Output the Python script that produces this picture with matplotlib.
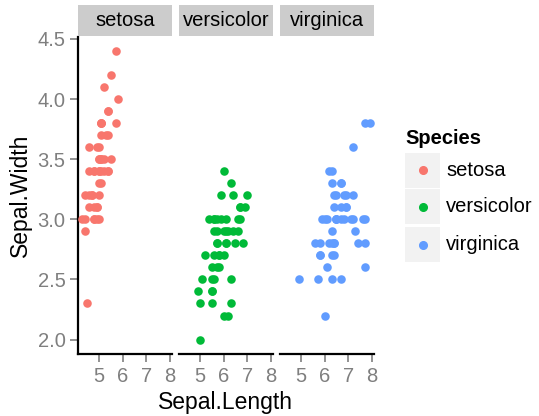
import matplotlib
matplotlib.use("Agg")
import matplotlib.pyplot as plt
from matplotlib.patches import Rectangle

plt.rcParams['font.family'] = ['Liberation Sans', 'DejaVu Sans']

species = ["setosa", "versicolor", "virginica"]
colors = ["#F8766D", "#00BA38", "#619CFF"]

setosa_len = [5.1, 4.9, 4.7, 4.6, 5.0, 5.4, 4.6, 5.0, 4.4, 4.9, 5.4, 4.8, 4.8, 4.3, 5.8, 5.7, 5.4,
              5.1, 5.7, 5.1, 5.4, 5.1, 4.6, 5.1, 4.8, 5.0, 5.0, 5.2, 5.2, 4.7, 4.8, 5.4, 5.2, 5.5,
              4.9, 5.0, 5.5, 4.9, 4.4, 5.1, 5.0, 4.5, 4.4, 5.0, 5.1, 4.8, 5.1, 4.6, 5.3, 5.0]
setosa_wid = [3.5, 3.0, 3.2, 3.1, 3.6, 3.9, 3.4, 3.4, 2.9, 3.1, 3.7, 3.4, 3.0, 3.0, 4.0, 4.4, 3.9,
              3.5, 3.8, 3.8, 3.4, 3.7, 3.6, 3.3, 3.4, 3.0, 3.4, 3.5, 3.4, 3.2, 3.1, 3.4, 4.1, 4.2,
              3.1, 3.2, 3.5, 3.6, 3.0, 3.4, 3.5, 2.3, 3.2, 3.5, 3.8, 3.0, 3.8, 3.2, 3.7, 3.3]

versicolor_len = [7.0, 6.4, 6.9, 5.5, 6.5, 5.7, 6.3, 4.9, 6.6, 5.2, 5.0, 5.9, 6.0, 6.1, 5.6, 6.7, 5.6,
                  5.8, 6.2, 5.6, 5.9, 6.1, 6.3, 6.1, 6.4, 6.6, 6.8, 6.7, 6.0, 5.7, 5.5, 5.5, 5.8, 6.0,
                  5.4, 6.0, 6.7, 6.3, 5.6, 5.5, 5.5, 6.1, 5.8, 5.0, 5.6, 5.7, 5.7, 6.2, 5.1, 5.7]
versicolor_wid = [3.2, 3.2, 3.1, 2.3, 2.8, 2.8, 3.3, 2.4, 2.9, 2.7, 2.0, 3.0, 2.2, 2.9, 2.9, 3.1, 3.0,
                  2.7, 2.2, 2.5, 3.2, 2.8, 2.5, 2.8, 2.9, 3.0, 2.8, 3.0, 2.9, 2.6, 2.4, 2.4, 2.7, 2.7,
                  3.0, 3.4, 3.1, 2.3, 3.0, 2.5, 2.6, 3.0, 2.6, 2.3, 2.7, 3.0, 2.9, 2.9, 2.5, 2.8]

virginica_len = [6.3, 5.8, 7.1, 6.3, 6.5, 7.6, 4.9, 7.3, 6.7, 7.2, 6.5, 6.4, 6.8, 5.7, 5.8, 6.4, 6.5,
                 7.7, 7.7, 6.0, 6.9, 5.6, 7.7, 6.3, 6.7, 7.2, 6.2, 6.1, 6.4, 7.2, 7.4, 7.9, 6.4, 6.3,
                 6.1, 7.7, 6.3, 6.4, 6.0, 6.9, 6.7, 6.9, 5.8, 6.8, 6.7, 6.7, 6.3, 6.5, 6.2, 5.9]
virginica_wid = [3.3, 2.7, 3.0, 2.9, 3.0, 3.0, 2.5, 2.9, 2.5, 3.6, 3.2, 2.7, 3.0, 2.5, 2.8, 3.2, 3.0,
                 3.8, 2.6, 2.2, 3.2, 2.8, 2.8, 2.7, 3.3, 3.2, 2.8, 3.0, 2.8, 3.0, 2.8, 3.8, 2.8, 2.8,
                 2.6, 3.0, 3.4, 3.1, 3.0, 3.1, 3.1, 3.1, 2.7, 3.2, 3.3, 3.0, 2.5, 3.0, 3.4, 3.0]

lengths = [setosa_len, versicolor_len, virginica_len]
widths = [setosa_wid, versicolor_wid, virginica_wid]

x_ticks = [5, 6, 7, 8]
y_ticks = [2.0, 2.5, 3.0, 3.5, 4.0, 4.5]

W, H = 539, 416
fig = plt.figure(figsize=(W / 100, H / 100), dpi=100)


def px_axes(left, top, width, height):
    return fig.add_axes([left / W, 1 - (top + height) / H, width / W, height / H])


grey = "#7f7f7f"
panel_left = [78, 179, 280]
panel_top, panel_bottom, panel_w = 36.5, 354, 94

for i, sp in enumerate(species):
    ax = px_axes(panel_left[i], panel_top, panel_w, panel_bottom - panel_top)
    ax.scatter(lengths[i], widths[i], s=38, color=colors[i], linewidths=0, zorder=3)
    ax.set_xlim(4.12, 8.08)
    ax.set_ylim(1.88, 4.52)
    ax.set_xticks(x_ticks)
    ax.set_xticklabels([str(t) for t in x_ticks])
    for s in ["top", "right"]:
        ax.spines[s].set_visible(False)
    ax.spines["bottom"].set_linewidth(1.6)
    ax.spines["bottom"].set_color("black")
    ax.tick_params(axis="x", length=6, width=1.2, color=grey, labelcolor=grey,
                   labelsize=14.5, pad=3)
    if i == 0:
        ax.set_yticks(y_ticks)
        ax.set_yticklabels([f"{t:.1f}" for t in y_ticks])
        ax.spines["left"].set_linewidth(1.6)
        ax.spines["left"].set_color("black")
        ax.tick_params(axis="y", length=6, width=1.2, color=grey, labelcolor=grey,
                       labelsize=14.5, pad=3)
        ax.set_ylabel("Sepal.Width", fontsize=16.5, labelpad=4)
    else:
        ax.spines["left"].set_visible(False)
        ax.set_yticks([])

    # facet strip
    st = px_axes(panel_left[i], 5, panel_w, 31)
    st.set_facecolor("#cccccc")
    st.set_xticks([])
    st.set_yticks([])
    for s in st.spines.values():
        s.set_visible(False)
    st.text(0.5, 0.5, sp, ha="center", va="center", fontsize=14.5, transform=st.transAxes)

fig.text(225.5 / W, 1 - 403 / H, "Sepal.Length", fontsize=16.5, ha="center", va="center")

# legend
fig.text(405 / W, 1 - 138 / H, "Species", fontsize=14.5, fontweight="bold", va="center")
key_tops = [153, 189, 227]
for i, sp in enumerate(species):
    top = key_tops[i]
    fig.patches.append(Rectangle((405 / W, 1 - (top + 35) / H), 35 / W, 35 / H,
                                 transform=fig.transFigure, facecolor="#f2f2f2",
                                 edgecolor="none"))
    cy = 1 - (top + 17.5) / H
    fig.lines.append(plt.Line2D([422.5 / W], [cy], marker="o", markersize=5.5,
                                color=colors[i], linestyle="none",
                                transform=fig.transFigure))
    fig.text(446 / W, cy, sp, fontsize=14.5, va="center")

fig.savefig("out.png", dpi=100)
